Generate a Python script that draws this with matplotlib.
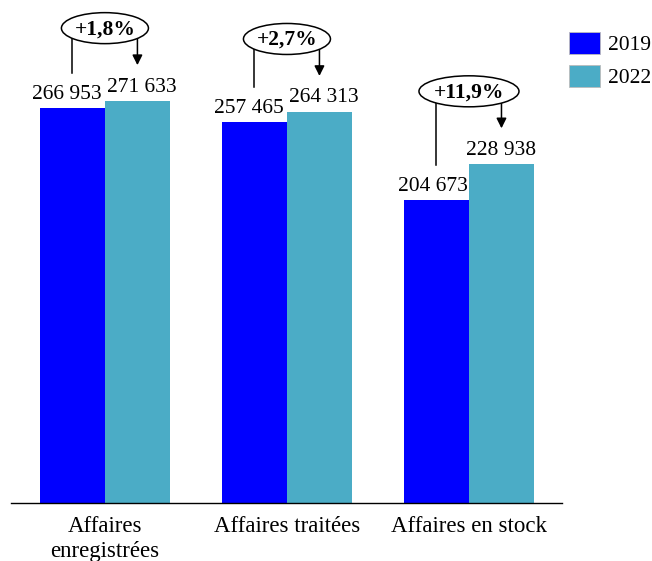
import matplotlib
matplotlib.use("Agg")
import matplotlib.pyplot as plt
from matplotlib.patches import Ellipse, Patch
import numpy as np

categories = ["Affaires\nenregistrées", "Affaires traitées", "Affaires en stock"]
years = ["2019", "2022"]
v2019 = [266953, 257465, 204673]
v2022 = [271633, 264313, 228938]
changes = ["+1,8%", "+2,7%", "+11,9%"]

BLUE, TEAL = "#0000FF", "#4BACC6"
FONT = "Liberation Serif"

plt.rcParams.update({"font.family": FONT, "font.size": 15.5})

W, H = 652, 561
fig = plt.figure(figsize=(W / 100, H / 100), dpi=100)
ax = fig.add_axes([11 / W, (H - 503) / H, (562 - 11) / W, 503 / H])

YMAX = 340000
ax.set_xlim(-0.516, 2.511)
ax.set_ylim(0, YMAX)
px = YMAX / 503.0      # data units per pixel
pxx = 1 / 182.0        # x data units per pixel

x = np.arange(len(categories))
w = 0.357
b1 = ax.bar(x - w / 2, v2019, w, color=BLUE, label=years[0])
b2 = ax.bar(x + w / 2, v2022, w, color=TEAL, label=years[1])

# labels nudged apart horizontally (pixels), as in the original layout
shift19 = [-6, -6, -4]
shift22 = [4, 4, 0]
ell_w = [87, 87, 100]


def fmt(v):
    return f"{v:,}".replace(",", " ")


for bars, vals, sh in ((b1, v2019, shift19), (b2, v2022, shift22)):
    for bar, v, s in zip(bars, vals, sh):
        ax.text(bar.get_x() + bar.get_width() / 2 + s * pxx, v + 9.5 * px, fmt(v),
                ha="center", va="baseline", fontsize=15.5)

# change callouts: ellipse + line from 2019 label + arrow to 2022 label
for i, (a, b, c) in enumerate(zip(v2019, v2022, changes)):
    xl, xr = x[i] - w / 2, x[i] + w / 2
    cy = b + 73 * px
    ew, eh = ell_w[i] * pxx, 31 * px
    ax.add_patch(Ellipse((x[i], cy), ew, eh, facecolor="white", edgecolor="black",
                         lw=1.1, zorder=3))
    ax.text(x[i], cy - 1 * px, c, ha="center", va="center", fontsize=15.5,
            fontweight="bold", zorder=4)
    rel = (w / 2) / (ew / 2)
    ytop = cy - (eh / 2) * np.sqrt(max(0.0, 1 - rel ** 2))
    ax.plot([xl, xl], [ytop, a + 35 * px], color="black", lw=1.1, zorder=2)
    ax.annotate("", xy=(xr, b + 36 * px), xytext=(xr, ytop),
                arrowprops=dict(arrowstyle="-|>", color="black", lw=1.1,
                                mutation_scale=15, shrinkA=0, shrinkB=0), zorder=2)

ax.set_xticks(x)
ax.set_xticklabels(categories, fontsize=16.5, linespacing=1.3)
ax.tick_params(axis="x", length=0, pad=9)
ax.set_yticks([])
for s in ("top", "right", "left"):
    ax.spines[s].set_visible(False)
ax.spines["bottom"].set_linewidth(1.0)

handles = [Patch(facecolor=BLUE, edgecolor="#bbbbbb", lw=0.6, label=years[0]),
           Patch(facecolor=TEAL, edgecolor="#bbbbbb", lw=0.6, label=years[1])]
fig.legend(handles=handles, loc="upper left", bbox_to_anchor=(569 / W, 1 - 32 / H),
           frameon=False, fontsize=15.5, handlelength=1.45, handleheight=1.2,
           labelspacing=0.45, handletextpad=0.35, borderaxespad=0, borderpad=0)

fig.savefig("out.png", dpi=100)
